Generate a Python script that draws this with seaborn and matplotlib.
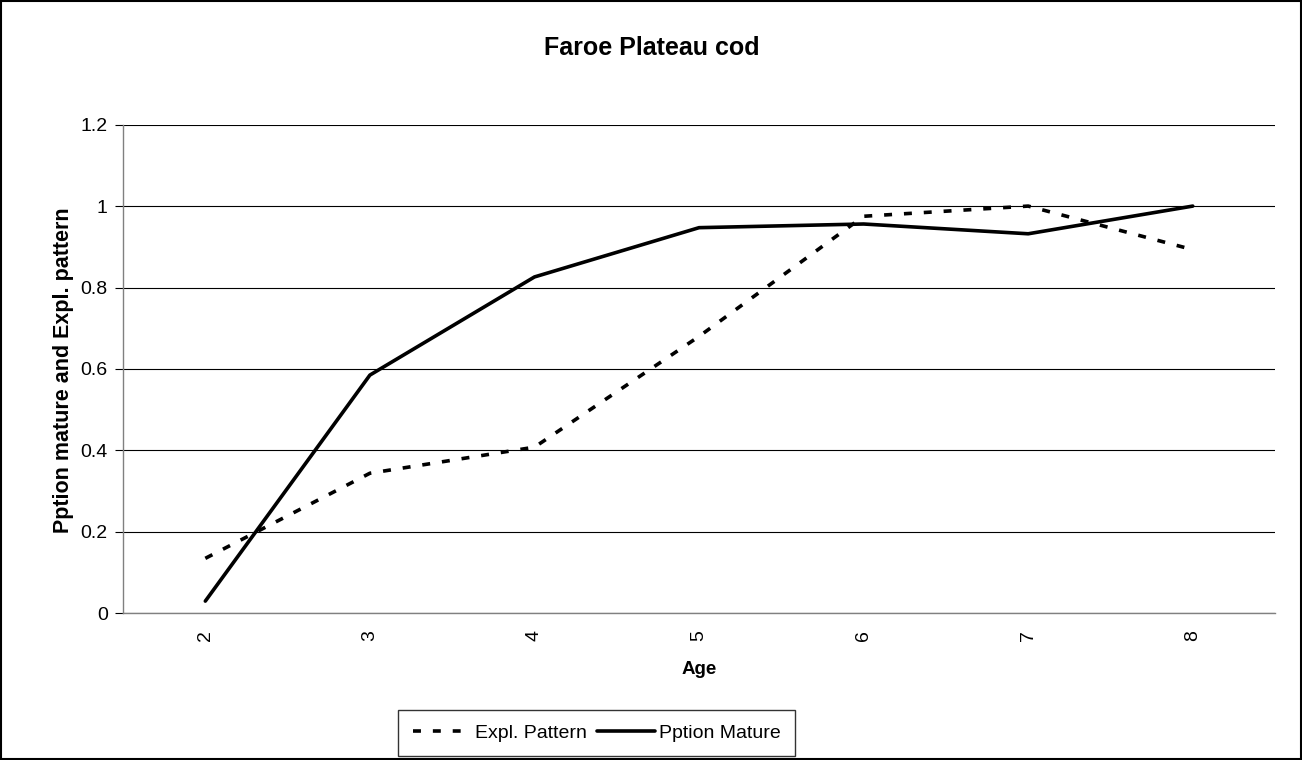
"""Faroe Plateau cod: proportion mature and exploitation pattern by age."""
import numpy as np
import pandas as pd
import seaborn as sns
from matplotlib import pyplot as plt
from matplotlib.ticker import FixedLocator

ages = [2, 3, 4, 5, 6, 7, 8]
expl_pattern = [0.135, 0.344, 0.408, 0.68, 0.975, 1.0, 0.893]
pption_mature = [0.03, 0.585, 0.826, 0.947, 0.956, 0.932, 1.0]

EXPL_NAME = "Expl. Pattern"
MAT_NAME = "Pption Mature"

data = pd.concat(
    [
        pd.DataFrame({"Age": ages, "value": expl_pattern, "series": EXPL_NAME}),
        pd.DataFrame({"Age": ages, "value": pption_mature, "series": MAT_NAME}),
    ],
    ignore_index=True,
)

sns.set_style("white")
plt.rcParams["font.family"] = ["Liberation Sans", "DejaVu Sans"]
for key in ("text.color", "axes.labelcolor", "xtick.color", "ytick.color"):
    plt.rcParams[key] = "black"

fig = plt.figure(figsize=(13.02, 7.6), dpi=100)
ax = fig.add_axes([0.0945, 0.193, 0.8848, 0.643])

sns.lineplot(
    data=data,
    x="Age",
    y="value",
    hue="series",
    hue_order=(EXPL_NAME, MAT_NAME),
    palette=["black", "black"],
    style="series",
    style_order=(EXPL_NAME, MAT_NAME),
    dashes={EXPL_NAME: (2.2, 3.3), MAT_NAME: ""},
    linewidth=2.6,
    ax=ax,
)

ax.set_xlim(1.5, 8.5)
ax.set_ylim(0, 1.2)
ax.set_yticks(np.arange(0, 1.21, 0.2))
ax.set_yticklabels(["0", "0.2", "0.4", "0.6", "0.8", "1", "1.2"], fontsize=14)
ax.set_xticks(ages)
ax.set_xticklabels([str(a) for a in ages], rotation=90, fontsize=14)
ax.xaxis.set_minor_locator(FixedLocator(np.arange(1.5, 8.6, 1.0)))
ax.tick_params(axis="x", which="major", length=0, pad=12)
ax.tick_params(axis="x", which="minor", length=6, width=0.8, color="black", direction="out")
ax.tick_params(axis="y", which="major", length=6, width=0.8, color="black",
               direction="out", left=True, pad=5)
ax.grid(axis="y", color="black", linewidth=0.8)
ax.set_axisbelow(True)

for side in ("top", "right"):
    ax.spines[side].set_visible(False)
for side in ("left", "bottom"):
    ax.spines[side].set_color("#808080")
    ax.spines[side].set_linewidth(1.0)

ax.set_xlabel("Age", fontsize=13.5, fontweight="bold")
ax.xaxis.set_label_coords(0.5, -0.098)
ax.set_ylabel("Pption mature and Expl. pattern", fontsize=15.5, fontweight="bold")
ax.yaxis.set_label_coords(-0.043, 0.497)
fig.text(0.501, 0.937, "Faroe Plateau cod", fontsize=18, fontweight="bold",
         ha="center", va="center")

leg = ax.legend(
    loc="center",
    bbox_to_anchor=(0.4585, 0.0355),
    bbox_transform=fig.transFigure,
    ncol=2,
    frameon=True,
    fancybox=False,
    fontsize=14,
    handlelength=3.0,
    handletextpad=0.2,
    columnspacing=0.5,
    borderpad=0.75,
    title=None,
)
leg.get_frame().set_edgecolor("black")
leg.get_frame().set_linewidth(1.0)

# outer chart border
fig.patches.append(
    plt.Rectangle((0.001, 0.001), 0.998, 0.998, transform=fig.transFigure,
                  fill=False, edgecolor="black", linewidth=1.5)
)

fig.savefig("out.png", dpi=100)
